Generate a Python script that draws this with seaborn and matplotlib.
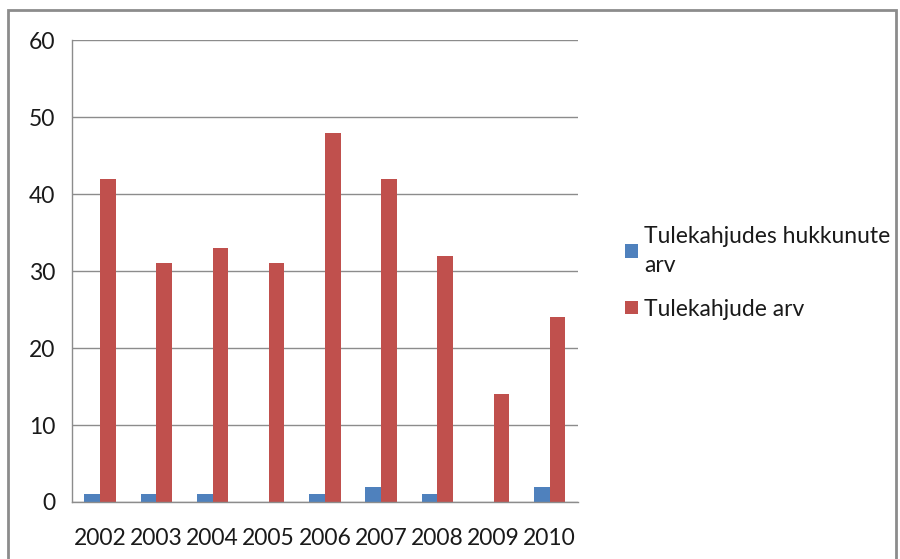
import numpy as np
import pandas as pd
import matplotlib.pyplot as plt
import matplotlib.patches as mpatches
import seaborn as sns

years = ['2002', '2003', '2004', '2005', '2006', '2007', '2008', '2009', '2010']
hukkunud = [1, 1, 1, 0, 1, 2, 1, 0, 2]
tulekahjud = [42, 31, 33, 31, 48, 42, 32, 14, 24]
series_names = ['Tulekahjudes hukkunute\narv', 'Tulekahjude arv']
colors = ['#4F81BD', '#C0504D']

df = pd.DataFrame({
    'aasta': years * 2,
    'vaartus': hukkunud + tulekahjud,
    'seeria': [series_names[0]] * len(years) + [series_names[1]] * len(years),
})

sns.set_style('white')
plt.rcParams['font.family'] = ['Lato', 'DejaVu Sans']

fig = plt.figure(figsize=(9, 5.59), dpi=100)
ax = fig.add_axes([0.08, 0.102, 0.562, 0.826])

sns.barplot(data=df, x='aasta', y='vaartus', hue='seeria', palette=colors,
            width=0.56, saturation=1, linewidth=0, ax=ax)

ax.set_ylim(0, 60)
ax.set_yticks(np.arange(0, 61, 10))
ax.set_xlim(-0.5, len(years) - 0.5)
ax.set_xlabel('')
ax.set_ylabel('')
ax.grid(axis='y', color='#8c8c8c', linewidth=1)
ax.set_axisbelow(True)

for side in ['top', 'right']:
    ax.spines[side].set_visible(False)
for side in ['left', 'bottom']:
    ax.spines[side].set_color('#8c8c8c')
    ax.spines[side].set_linewidth(1)

fs = 16.5
ax.tick_params(axis='y', which='major', length=4, color='#8c8c8c', labelsize=fs,
               pad=8, labelcolor='#1a1a1a')
ax.tick_params(axis='x', which='major', length=0, labelsize=fs, pad=19,
               labelcolor='#1a1a1a')
ax.set_xticks(np.arange(-0.5, len(years)), minor=True)
ax.tick_params(axis='x', which='minor', length=7, color='#8c8c8c', width=1)

handles, labels = ax.get_legend_handles_labels()
leg = ax.legend(handles, labels, loc='center left', bbox_to_anchor=(0.672, 0.512),
                bbox_transform=fig.transFigure, frameon=False, fontsize=fs,
                handlelength=0.55, handleheight=0.55, handletextpad=0.25, labelspacing=1.0)
for t in leg.get_texts():
    t.set_linespacing(1.45)
    t.set_color('#1a1a1a')

fig.patches.append(mpatches.Rectangle((8 / 900, -0.05), 888 / 900, 1 - 10 / 559 + 0.05,
                                      transform=fig.transFigure, fill=False,
                                      edgecolor='#8c8c8c', linewidth=2))

fig.savefig('out.png', dpi=100)
